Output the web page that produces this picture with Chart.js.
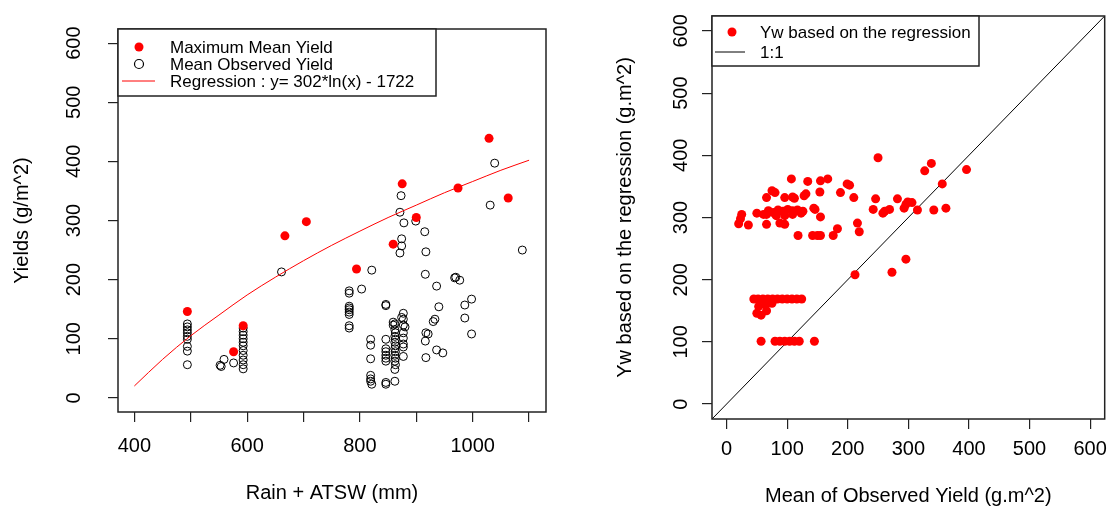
<!DOCTYPE html>
<html>
<head>
<meta charset="utf-8">
<script src="https://cdn.jsdelivr.net/npm/chart.js@4.4.1/dist/chart.umd.min.js"></script>
<style>
  html, body { margin: 0; padding: 0; background: #fff; }
  #wrap { position: relative; width: 1115px; height: 517px; overflow: hidden; }
  canvas { position: absolute; top: 0; }
</style>
</head>
<body>
<div id="wrap">
  <canvas id="yieldChart" width="560" height="517" style="left:0"></canvas>
  <canvas id="ywChart" width="515" height="517" style="left:600px"></canvas>
</div>
<script>
// ---- left panel: yields vs Rain + ATSW ----
const maxRain  = [494, 576, 593, 667, 705, 794, 859, 875, 900, 974, 1029, 1063];
const maxYield = [146, 78, 122, 274, 298, 218, 260, 362, 305, 355, 439, 338];

const obsRain = [
  494, 494, 494, 494, 494, 494, 494, 494, 494,
  552, 554, 559, 576,
  593, 593, 593, 593, 593, 593, 593, 593, 593, 593, 593,
  661,
  781, 781, 781, 781, 781, 781, 781, 781, 781,
  803, 821,
  819, 819, 819, 819, 819, 819, 821,
  846, 846, 846, 846, 846, 846, 846, 846, 846, 846,
  859, 859, 862, 862, 863, 862, 863, 862, 863, 862, 863, 862, 863, 862, 863, 862, 862,
  877, 874, 877, 880, 877, 877, 877, 877, 877, 877,
  871, 878, 874, 874, 871, 873, 899,
  915, 917, 916, 936, 940, 933, 930, 917, 921, 916, 917, 936, 947,
  968, 970, 977, 998, 986, 986, 998, 1088, 1039, 1031
];
const obsYield = [
  125, 120, 115, 110, 104, 99, 87, 79, 56,
  55, 53, 65, 59,
  118, 112, 106, 100, 94, 88, 80, 72, 64, 56, 49,
  213,
  181, 177, 155, 152, 149, 145, 141, 122, 118,
  184, 216,
  99, 89, 66, 38, 32, 28, 23,
  158, 156, 99, 83, 78, 72, 67, 62, 26, 23,
  128, 123, 125, 115, 110, 104, 99, 94, 88, 83, 78, 72, 67, 62, 56, 48, 28,
  143, 136, 123, 120, 133, 110, 101, 91, 86, 70,
  314, 296, 269, 257, 245, 342, 299,
  281, 247, 209, 189, 154, 133, 129, 110, 108, 96, 68, 81, 76,
  203, 204, 199, 167, 157, 135, 108, 250, 397, 326
];

// regression curve as drawn in the plot
const regRain  = [400, 450, 500, 550, 600, 650, 700, 750, 800, 850, 900, 950, 1000, 1050, 1100];
const regYield = [20, 65, 105, 140, 174, 204, 232, 258, 282, 305, 326, 347, 366, 385, 402];

const rainTicks = [400, 500, 600, 700, 800, 900, 1000, 1100];
const rainTickLabels = ['400', '', '600', '', '800', '', '1000', ''];
const yieldTicks = [0, 100, 200, 300, 400, 500, 600];

// ---- right panel: Yw vs mean observed yield ----
const meanObs = [
  250, 338, 327, 396, 356, 107, 134, 155, 167, 199, 203, 75, 80, 66, 96, 109, 112, 131, 128, 154,
  188, 210, 246, 282, 299, 306, 296, 242, 261, 258, 269, 293, 315, 342, 362,
  25, 23, 20, 36, 50, 61, 69, 77, 85, 93, 101, 109, 117, 126, 144, 146, 66, 82, 96, 109, 123,
  66, 88, 96, 155, 118, 142, 150, 155, 176, 183, 216, 219, 296, 273, 212,
  45, 52, 60, 68, 76, 84, 92, 100, 108, 116, 124,
  53, 64, 75, 50, 57, 66,
  57, 80, 88, 96, 104, 112, 120, 145
];
const ywReg = [
  396, 387, 375, 377, 354, 362, 358, 359, 362, 354, 352, 343, 340, 332, 332, 333, 331, 338, 335, 341,
  340, 332, 330, 330, 325, 324, 321, 313, 310, 307, 313, 315, 312, 312, 315,
  305, 298, 290, 288, 307, 305, 311, 308, 312, 310, 313, 311, 312, 310, 315, 313, 305, 303, 303, 305, 307,
  289, 291, 289, 301, 271, 271, 271, 271, 271, 282, 291, 277, 233, 212, 208,
  169, 169, 169, 169, 169, 169, 169, 169, 169, 169, 169,
  157, 160, 162, 146, 143, 150,
  101, 101, 101, 101, 101, 101, 101, 101
];
const oneToOne = [-24, 624];
const obsTicks = [0, 100, 200, 300, 400, 500, 600];

const FONT = "'Liberation Sans', Arial, sans-serif";
Chart.defaults.font.family = FONT;
Chart.defaults.color = '#000';

function pts(xs, ys) {
  return xs.map((x, i) => ({ x: x, y: ys[i] }));
}

// box around plot area, R style
const frame = {
  id: 'frame',
  afterDraw(chart) {
    const a = chart.chartArea, c = chart.ctx;
    c.save();
    c.strokeStyle = '#222';
    c.lineWidth = 1.5;
    c.strokeRect(a.left, a.top, a.right - a.left, a.bottom - a.top);
    c.restore();
  }
};

// legend box in the top left corner of the plot
const boxLegend = {
  id: 'boxLegend',
  afterDraw(chart, args, o) {
    const a = chart.chartArea, c = chart.ctx;
    const x0 = a.left, y0 = a.top;
    c.save();
    c.fillStyle = '#fff';
    c.fillRect(x0, y0, o.width, o.height);
    c.strokeStyle = '#222';
    c.lineWidth = 1.5;
    c.strokeRect(x0, y0, o.width, o.height);
    c.font = o.fontSize + 'px ' + FONT;
    c.textBaseline = 'middle';
    chart.data.datasets.forEach((ds, i) => {
      const y = y0 + o.rows[i];
      if (ds.showLine) {
        c.strokeStyle = ds.borderColor;
        c.lineWidth = 1;
        c.beginPath();
        c.moveTo(x0 + o.lineFrom, y);
        c.lineTo(x0 + o.lineTo, y);
        c.stroke();
      } else {
        c.beginPath();
        c.arc(x0 + o.symX, y, o.symR, 0, Math.PI * 2);
        if (ds.backgroundColor !== 'transparent') {
          c.fillStyle = ds.backgroundColor;
          c.fill();
        } else {
          c.strokeStyle = ds.borderColor;
          c.lineWidth = 1.2;
          c.stroke();
        }
      }
      c.fillStyle = '#000';
      c.fillText(ds.label, x0 + o.textX, y + 1);
    });
    c.restore();
  }
};

function axis(opts) {
  return {
    type: 'linear',
    min: opts.min,
    max: opts.max,
    afterBuildTicks: s => { s.ticks = opts.ticks.map(v => ({ value: v })); },
    afterFit: opts.fit,
    grid: { display: true, drawOnChartArea: false, drawTicks: true, tickLength: 10,
            tickColor: '#222', lineWidth: 1.2 },
    border: { display: false },
    ticks: Object.assign({ autoSkip: false, font: { size: 20 }, color: '#000' }, opts.tickOpts),
    title: { display: true, text: opts.title, font: { size: 20 }, color: '#000', padding: opts.titlePad }
  };
}

new Chart(document.getElementById('yieldChart'), {
  type: 'scatter',
  data: {
    datasets: [
      {
        label: 'Maximum Mean Yield',
        data: pts(maxRain, maxYield),
        backgroundColor: '#ff0000',
        borderWidth: 0,
        pointRadius: 4.5,
        order: 0
      },
      {
        label: 'Mean Observed Yield',
        data: pts(obsRain, obsYield),
        backgroundColor: 'transparent',
        borderColor: '#000',
        borderWidth: 1,
        pointRadius: 4,
        order: 2
      },
      {
        label: 'Regression : y= 302*ln(x) - 1722',
        data: pts(regRain, regYield),
        showLine: true,
        borderColor: '#ff0000',
        borderWidth: 1,
        pointRadius: 0,
        cubicInterpolationMode: 'monotone',
        order: 1
      }
    ]
  },
  options: {
    responsive: false,
    animation: false,
    layout: { padding: { top: 5, right: 14, left: 0, bottom: 0 } },
    plugins: {
      legend: { display: false },
      tooltip: { enabled: false },
      boxLegend: { width: 318, height: 67, rows: [18, 35, 52], symX: 21, symR: 4.5,
                   lineFrom: 4, lineTo: 37, textX: 52, fontSize: 17 }
    },
    scales: {
      x: axis({ min: 371, max: 1130, ticks: rainTicks, title: 'Rain + ATSW (mm)',
                fit: s => { s.height = 105; },
                titlePad: { top: 0, bottom: 12 },
                tickOpts: { padding: 12, maxRotation: 0, callback: (v, i) => rainTickLabels[i] } }),
      y: axis({ min: -24, max: 624, ticks: yieldTicks, title: 'Yields (g/m^2)',
                fit: s => { s.width = 118; },
                titlePad: { top: 10, bottom: 0 },
                tickOpts: { padding: 17, minRotation: 90, maxRotation: 90, crossAlign: 'center' } })
    }
  },
  plugins: [frame, boxLegend]
});

new Chart(document.getElementById('ywChart'), {
  type: 'scatter',
  data: {
    datasets: [
      {
        label: 'Yw based on the regression',
        data: pts(meanObs, ywReg),
        backgroundColor: '#ff0000',
        borderWidth: 0,
        pointRadius: 4.5,
        order: 0
      },
      {
        label: '1:1',
        data: pts(oneToOne, oneToOne),
        showLine: true,
        borderColor: '#000',
        borderWidth: 1,
        pointRadius: 0,
        order: 1
      }
    ]
  },
  options: {
    responsive: false,
    animation: false,
    layout: { padding: { top: 7, right: 3, left: 0, bottom: 0 } },
    plugins: {
      legend: { display: false },
      tooltip: { enabled: false },
      boxLegend: { width: 267, height: 50, rows: [16, 36], symX: 20, symR: 4.5,
                   lineFrom: 3, lineTo: 33, textX: 48, fontSize: 17 }
    },
    scales: {
      x: axis({ min: -24, max: 624, ticks: obsTicks, title: 'Mean of Observed Yield (g.m^2)',
                fit: s => { s.height = 98; },
                titlePad: { top: 0, bottom: 9 },
                tickOpts: { padding: 8, maxRotation: 0 } }),
      y: axis({ min: -24, max: 624, ticks: yieldTicks, title: 'Yw based on the regression (g.m^2)',
                fit: s => { s.width = 112; },
                titlePad: { top: 13, bottom: 0 },
                tickOpts: { padding: 4, minRotation: 90, maxRotation: 90, crossAlign: 'center' } })
    }
  },
  plugins: [frame, boxLegend]
});
</script>
</body>
</html>
